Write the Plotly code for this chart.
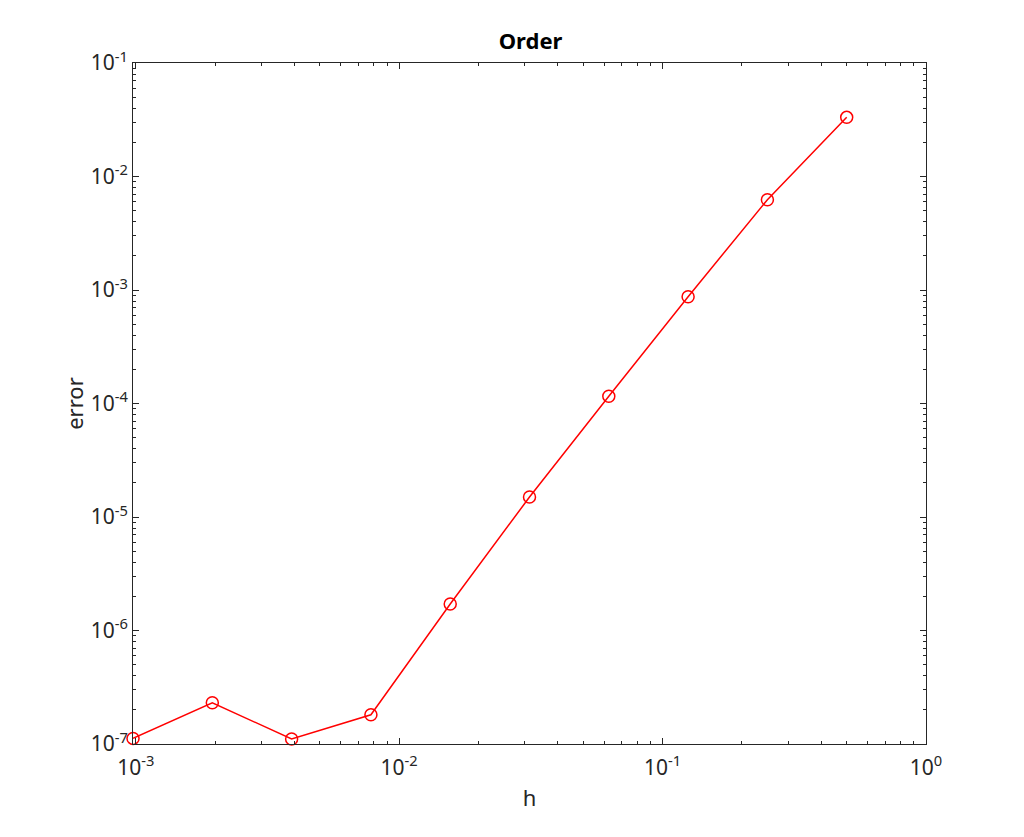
import math
import plotly.graph_objects as go

h = [0.5, 0.25, 0.125, 0.0625, 0.03125, 0.015625, 0.0078125, 0.00390625, 0.001953125, 0.0009765625]
err = [3.32e-2, 6.25e-3, 8.73e-4, 1.16e-4, 1.50e-5, 1.71e-6, 1.81e-7, 1.107e-7, 2.31e-7, 1.12e-7]

x_decades = [-3, -2, -1, 0]
y_decades = [-7, -6, -5, -4, -3, -2, -1]

def sup_label(e):
    return "10<sup>%d</sup>" % e

x_tickvals = [10.0 ** e for e in x_decades]
x_ticktext = [sup_label(e) for e in x_decades]
y_tickvals = [10.0 ** e for e in y_decades]
y_ticktext = [sup_label(e) for e in y_decades]
x_minor = [m * 10.0 ** e for e in x_decades[:-1] for m in range(2, 10)]
y_minor = [m * 10.0 ** e for e in y_decades[:-1] for m in range(2, 10)]

axcol = "#262626"
FONT = "Noto Sans"

x_range = [math.log10(min(h)) - 0.0001, 0]
y_range = [-7, -1]

fig = go.Figure()
fig.add_trace(go.Scatter(
    x=h, y=err, mode="lines+markers",
    line=dict(color="#ff0000", width=1.5),
    marker=dict(symbol="circle-open", size=12, color="#ff0000", line=dict(width=1.5, color="#ff0000")),
    cliponaxis=False, showlegend=False, hoverinfo="x+y",
))
# invisible trace to hold the minor-tick axes
fig.add_trace(go.Scatter(
    x=h, y=err, xaxis="x2", yaxis="y2", mode="lines",
    line=dict(width=0, color="rgba(0,0,0,0)"), showlegend=False, hoverinfo="skip",
))

base = dict(type="log", showgrid=False, zeroline=False, showline=True, linecolor=axcol,
            linewidth=1, mirror="ticks", ticks="inside", tickcolor=axcol, tickwidth=1)

fig.update_layout(
    width=1016, height=829,
    margin=dict(l=125, r=98, t=55, b=93, autoexpand=False),
    paper_bgcolor="white", plot_bgcolor="white",
    font=dict(family=FONT, size=20, color=axcol),
    title=dict(text="<b>Order</b>", x=0.5143, xanchor="center", y=0.9593, yanchor="middle",
               font=dict(family=FONT, size=22, color="#000000")),
    xaxis=dict(range=x_range, tickvals=x_tickvals, ticktext=x_ticktext, ticklen=6,
               tickfont=dict(family=FONT, size=21, color=axcol), ticklabelstandoff=5,
               title=dict(text="h", font=dict(family=FONT, size=22, color=axcol), standoff=10),
               **base),
    yaxis=dict(range=y_range, tickvals=y_tickvals, ticktext=y_ticktext, ticklen=6,
               tickfont=dict(family=FONT, size=21, color=axcol), ticklabelstandoff=0,
               title=dict(text="error", font=dict(family=FONT, size=22, color=axcol), standoff=0),
               **base),
    xaxis2=dict(range=x_range, overlaying="x", anchor="y2", side="bottom", tickvals=x_minor,
                showticklabels=False, ticklen=3, **base),
    yaxis2=dict(range=y_range, overlaying="y", anchor="x2", side="left", tickvals=y_minor,
                showticklabels=False, ticklen=3, **base),
)

fig.write_html("out.html")
